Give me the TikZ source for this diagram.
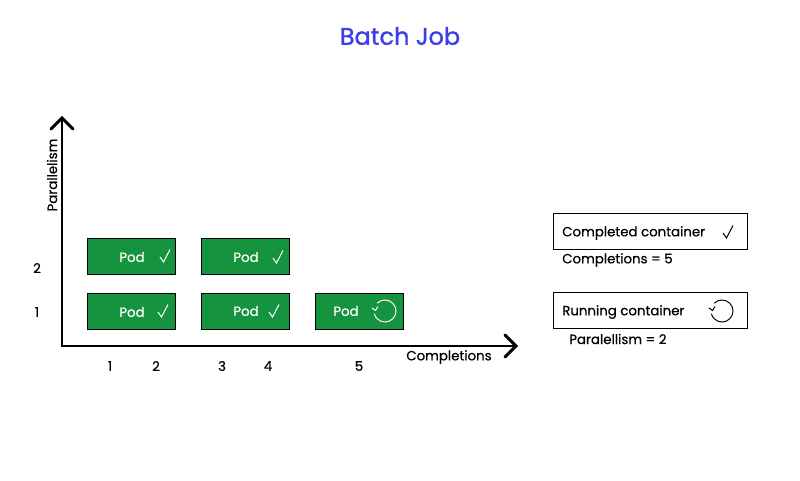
\documentclass[tikz,border=0pt]{standalone}
\usepackage{fontspec}
\setmainfont{Poppins}[FakeBold=0.5]
\newfontfamily\titlefont{Poppins}[FakeBold=1.2]
\definecolor{podgreen}{HTML}{16933F}
\definecolor{titleblue}{HTML}{3B3FEA}
\tikzset{
  x=0.75pt,y=-0.75pt,
  podbox/.style={draw=black,fill=podgreen,line width=0.75pt,minimum width=66.5pt,minimum height=27pt,inner sep=0pt},
  podtext/.style={text=white,font=\fontsize{10}{12}\selectfont,inner sep=0pt},
  lbl/.style={text=black,font=\fontsize{10}{12}\selectfont,inner sep=0pt},
  legendbox/.style={draw=black,fill=white,line width=0.75pt,minimum width=146pt,minimum height=27.5pt,inner sep=0pt},
  axisline/.style={draw=black,line width=2.2pt},
  axishead/.style={draw=black,line width=2.2pt,line cap=round,line join=miter},
  thinicon/.style={line width=0.75pt}
}
\newcommand{\checkmk}[3]{\draw[thinicon,#3] (#1-5,#2+1) -- (#1-1.5,#2+6) -- (#1+5,#2-6.5);}
\newcommand{\spinmk}[3]{%
  \draw[thinicon,#3] (#1,#2)++(-135:11) arc[start angle=-135,end angle=165,radius=11];
  \draw[thinicon,#3] (#1-13,#2-3) -- (#1-9.5,#2-0.5) -- (#1-7,#2-4.5);}
\begin{document}
\begin{tikzpicture}
\useasboundingbox (0,0) rectangle (800,480);
\fill[white] (0,0) rectangle (800,480);
\node[text=titleblue,font=\titlefont\fontsize{18}{22}\selectfont,inner sep=0pt] (title) at (400,36) {Batch Job};

\coordinate (origin) at (62,346);
\coordinate (ytip) at (62,118);
\coordinate (xtip) at (516,346);
\draw[axisline] (ytip) -- (origin) -- (xtip);
\draw[axishead] (51,129) -- (ytip) -- (73,129);
\draw[axishead] (505,335) -- (xtip) -- (505,357);

\node[lbl,rotate=90] (ylabel) at (52,175) {Parallelism};
\node[lbl] (xlabel) at (449,357) {Completions};

\node[podbox] (p21) at (131.5,256.5) {};
\node[podbox] (p22) at (245.5,256.5) {};
\node[podbox] (p11) at (131.5,311) {};
\node[podbox] (p12) at (245.5,311) {};
\node[podbox] (p13) at (359.5,311) {};
\node[podtext] (t21) at (132,257) {Pod};
\node[podtext] (t22) at (246,257) {Pod};
\node[podtext] (t11) at (132,312) {Pod};
\node[podtext] (t12) at (246,311) {Pod};
\node[podtext] (t13) at (346,311) {Pod};
\checkmk{165}{256}{white}
\checkmk{278}{257}{white}
\checkmk{163}{311}{white}
\checkmk{274}{311}{white}
\spinmk{385}{311}{white}

\node[lbl] (n1) at (37,312) {1};
\node[lbl] (n2) at (37,268) {2};
\node[lbl] (c1) at (110,366) {1};
\node[lbl] (c2) at (156,366) {2};
\node[lbl] (c3) at (222,366) {3};
\node[lbl] (c4) at (268,366) {4};
\node[lbl] (c5) at (359,366) {5};

\node[legendbox] (l1) at (650.5,231.5) {};
\node[legendbox] (l2) at (650.5,310.5) {};
\node[lbl,anchor=west] (lt1) at (562,233) {Completed container};
\node[lbl,anchor=west] (lt2) at (562,312) {Running container};
\node[lbl,anchor=west] (ls1) at (562,260) {Completions = 5};
\node[lbl,anchor=west] (ls2) at (569,339) {Paralellism = 2};
\checkmk{728}{232}{black}
\spinmk{722}{311}{black}
\end{tikzpicture}
\end{document}
